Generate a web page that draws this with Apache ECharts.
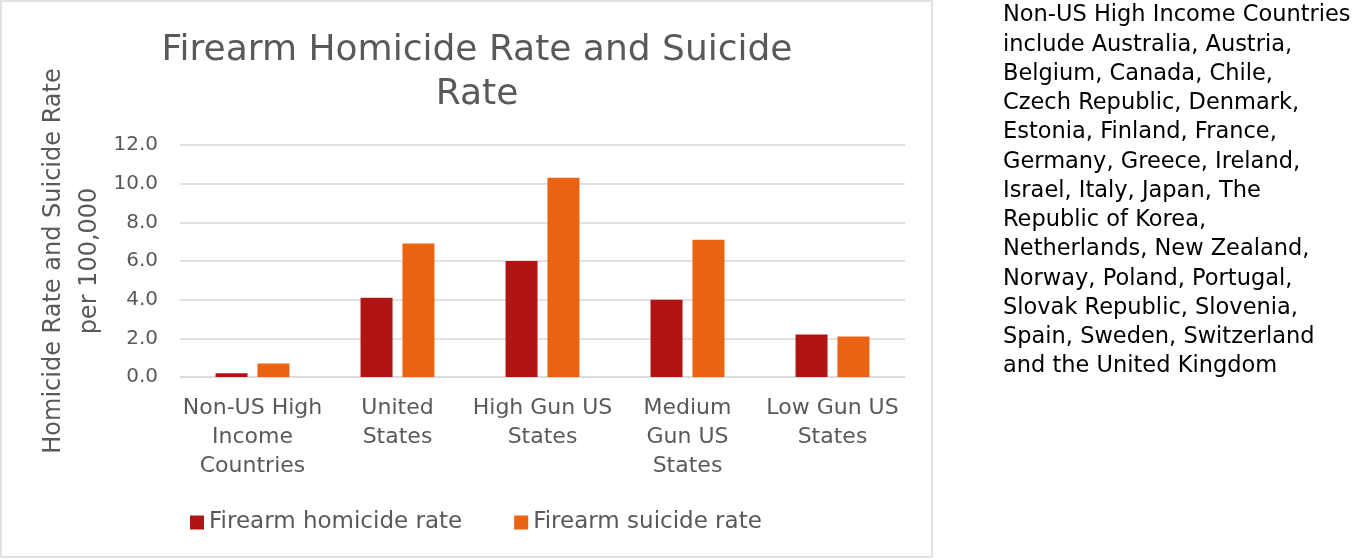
<!DOCTYPE html>
<html>
<head>
<meta charset="utf-8">
<script src="https://cdn.jsdelivr.net/npm/echarts@6/dist/echarts.min.js"></script>
<style>
html,body{margin:0;padding:0;background:#fff;}
#chart{width:1359px;height:560px;}
</style>
</head>
<body>
<div id="chart"></div>
<script>
const titleText = "Firearm Homicide Rate and Suicide\nRate";
const yAxisName = "Homicide Rate and Suicide Rate\nper 100,000";
const categories = ["Non-US High\nIncome\nCountries", "United\nStates", "High Gun US\nStates", "Medium\nGun US\nStates", "Low Gun US\nStates"];
const seriesNames = ["Firearm homicide rate", "Firearm suicide rate"];
const homicideRate = [0.2, 4.1, 6.0, 4.0, 2.2];
const suicideRate = [0.7, 6.9, 10.3, 7.1, 2.1];
const noteText = "Non-US High Income Countries\ninclude Australia, Austria,\nBelgium, Canada, Chile,\nCzech Republic, Denmark,\nEstonia, Finland, France,\nGermany, Greece, Ireland,\nIsrael, Italy, Japan, The\nRepublic of Korea,\nNetherlands, New Zealand,\nNorway, Poland, Portugal,\nSlovak Republic, Slovenia,\nSpain, Sweden, Switzerland\nand the United Kingdom";

const FONT = "'DejaVu Sans', sans-serif";
const GRAY = "#595959";
const chart = echarts.init(document.getElementById('chart'), null, {renderer: 'canvas'});
chart.setOption({
  animation: false,
  backgroundColor: '#ffffff',
  textStyle: {fontFamily: FONT},
  title: {
    text: titleText,
    left: 472,
    textAlign: 'center',
    top: 24,
    textStyle: {fontFamily: FONT, fontSize: 36, fontWeight: 'normal', color: GRAY, lineHeight: 44}
  },
  legend: {
    data: seriesNames,
    left: 185,
    top: 506,
    itemWidth: 14,
    itemHeight: 14,
    itemGap: 52,
    icon: 'rect',
    textStyle: {fontFamily: FONT, fontSize: 23, color: GRAY}
  },
  grid: {left: 180, right: 454, top: 145, bottom: 183, containLabel: false},
  xAxis: {
    type: 'category',
    data: categories,
    axisLine: {show: true, lineStyle: {color: '#D9D9D9', width: 1.5}},
    axisTick: {show: false},
    axisLabel: {fontFamily: FONT, fontSize: 22, color: GRAY, lineHeight: 29, margin: 17, interval: 0}
  },
  yAxis: {
    type: 'value',
    min: 0, max: 12, interval: 2,
    name: yAxisName,
    nameLocation: 'middle',
    nameRotate: 90,
    nameGap: 72,
    nameMoveOverlap: false,
    nameTextStyle: {fontFamily: FONT, fontSize: 24, color: GRAY, lineHeight: 36},
    axisLine: {show: false},
    axisTick: {show: false},
    splitLine: {lineStyle: {color: '#D9D9D9', width: 1.5}},
    axisLabel: {fontFamily: FONT, fontSize: 20, color: GRAY, margin: 22, formatter: v => v.toFixed(1)}
  },
  series: [
    {name: seriesNames[0], type: 'bar', data: homicideRate, barWidth: 32, barGap: '31%', itemStyle: {color: '#B01513'}},
    {name: seriesNames[1], type: 'bar', data: suicideRate, barWidth: 32, barGap: '31%', itemStyle: {color: '#EA6312'}}
  ],
  graphic: [
    {type: 'rect', shape: {x: 1, y: 1, width: 931, height: 556}, style: {fill: 'none', stroke: '#D9D9D9', lineWidth: 1.5}, silent: true},
    {type: 'text', left: 1003, top: 1, style: {text: noteText, fontFamily: FONT, fontSize: 22.5, lineHeight: 29.25, fill: '#000000'}}
  ]
});
</script>
</body>
</html>
